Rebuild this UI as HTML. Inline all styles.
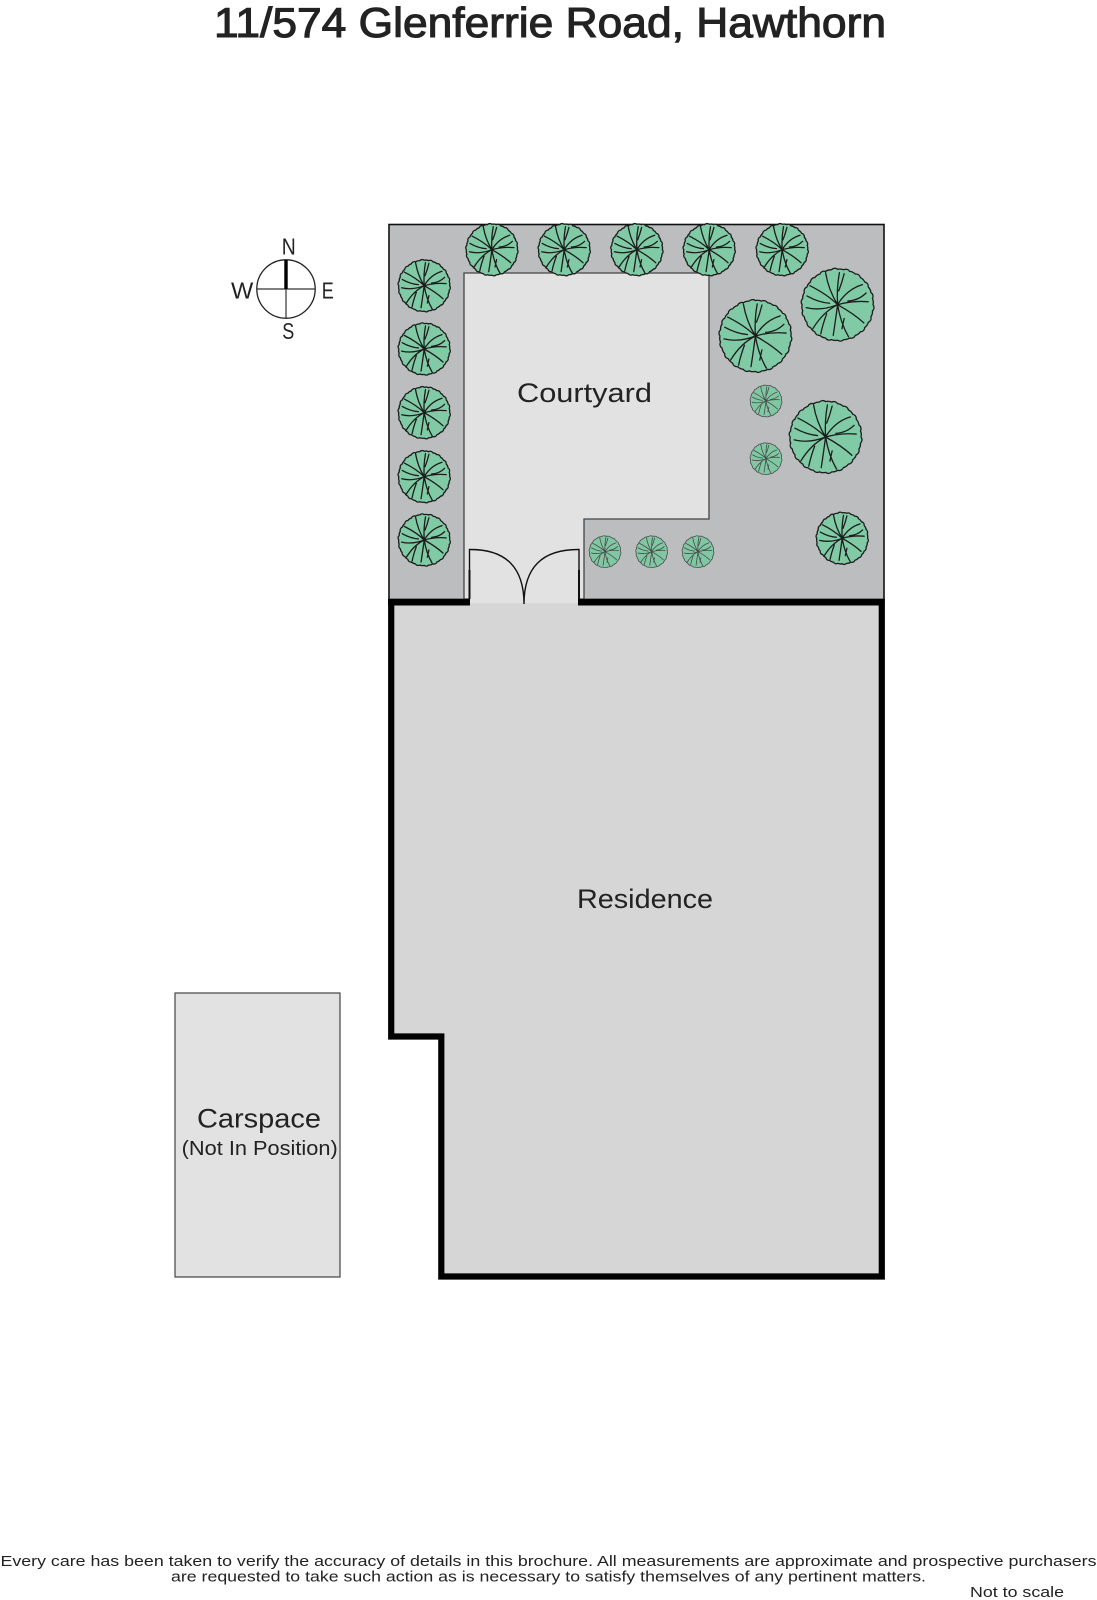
<!DOCTYPE html>
<html><head><meta charset="utf-8"><title>11/574 Glenferrie Road, Hawthorn</title>
<style>html,body{margin:0;padding:0;background:#fff}svg{display:block}
text{font-family:"Liberation Sans",sans-serif;fill:#222}</style></head>
<body>
<svg xmlns="http://www.w3.org/2000/svg" width="1097" height="1600" viewBox="0 0 1097 1600">
<defs>
<g id="tree" stroke-linejoin="round" stroke-linecap="round">
<path vector-effect="non-scaling-stroke" d="M97 0A12 12 0 0 1 95.5 16.9A25 25 0 0 1 91.2 33.2A12 12 0 0 1 84 48.5A25 25 0 0 1 74.3 62.4A12 12 0 0 1 62.4 74.3A25 25 0 0 1 48.5 84A12 12 0 0 1 33.2 91.2A25 25 0 0 1 16.9 95.5A12 12 0 0 1 0 97A25 25 0 0 1 -16.9 95.5A12 12 0 0 1 -33.2 91.2A25 25 0 0 1 -48.5 84A12 12 0 0 1 -62.4 74.3A25 25 0 0 1 -74.3 62.4A12 12 0 0 1 -84 48.5A25 25 0 0 1 -91.2 33.2A12 12 0 0 1 -95.5 16.9A25 25 0 0 1 -97 0A12 12 0 0 1 -95.5 -16.9A25 25 0 0 1 -91.2 -33.2A12 12 0 0 1 -84 -48.5A25 25 0 0 1 -74.3 -62.4A12 12 0 0 1 -62.4 -74.3A25 25 0 0 1 -48.5 -84A12 12 0 0 1 -33.2 -91.2A25 25 0 0 1 -16.9 -95.5A12 12 0 0 1 0 -97A25 25 0 0 1 16.9 -95.5A12 12 0 0 1 33.2 -91.2A25 25 0 0 1 48.5 -84A12 12 0 0 1 62.4 -74.3A25 25 0 0 1 74.3 -62.4A12 12 0 0 1 84 -48.5A25 25 0 0 1 91.2 -33.2A12 12 0 0 1 95.5 -16.9A25 25 0 0 1 97 0Z"/>
<path vector-effect="non-scaling-stroke" fill="none" d="M0 0Q-25 -40 -33 -88M0 0Q-3 -45 5 -88M3 -38Q12 -60 18 -85M0 0Q25 -42 68 -55M0 0Q40 -12 84 -8M28 -10Q58 -12 78 -32M0 0Q45 25 72 50M0 0Q8 50 30 88M0 0Q-6 45 -12 84M18 38Q14 55 12 66M0 0Q-40 20 -68 66M-30 25Q-42 58 -46 80M0 0Q-45 18 -86 8M0 0Q-28 -28 -76 -52M-22 -4Q-52 -6 -84 -24"/>
</g>
</defs>

<text x="214" y="37" font-size="42" textLength="672" lengthAdjust="spacingAndGlyphs" stroke="#222" stroke-width="1.1">11/574 Glenferrie Road, Hawthorn</text>

<!-- garden -->
<rect x="389" y="224.5" width="495" height="375" fill="#bcbdbf" stroke="#111" stroke-width="1.6"/>
<!-- courtyard -->
<polygon points="464,273 709,273 709,519 584,519 584,599 464,599" fill="#e2e2e3" stroke="#444" stroke-width="1.3"/>

<!-- residence -->
<polygon points="391,602 881.5,602 881.5,1276 441,1276 441,1036 391,1036" fill="#d6d6d6"/>
<rect x="470" y="596" width="109" height="8" fill="#e2e2e3"/>
<rect x="470" y="603" width="109" height="3" fill="#d6d6d6"/>
<path d="M470 602.2H388M578 602.2H884.6" stroke="#000" stroke-width="6.6" fill="none"/>
<path d="M391.2 599V1036.5H441.3V1276.5H881.8V599" stroke="#000" stroke-width="6.2" fill="none" stroke-linejoin="miter"/>

<!-- door -->
<path d="M469.5 599V549.5Q524 549 524 604Q524 549 579 549.5V599" fill="none" stroke="#111" stroke-width="1.4"/>
<path d="M469.5 570V599M579 570V599" fill="none" stroke="#111" stroke-width="2"/>

<!-- trees -->
<g fill="#80cba5" stroke="#1c1c1c" stroke-width="1.3">
<use href="#tree" transform="translate(491.9,249.7) scale(.262)"/>
<use href="#tree" transform="translate(564.2,249.7) scale(.262)"/>
<use href="#tree" transform="translate(636.9,249.7) scale(.262)"/>
<use href="#tree" transform="translate(709.2,249.7) scale(.262)"/>
<use href="#tree" transform="translate(782.2,249.7) scale(.262)"/>
<use href="#tree" transform="translate(424.2,285.7) scale(.262)"/>
<use href="#tree" transform="translate(424.2,349) scale(.262)"/>
<use href="#tree" transform="translate(424.2,412.7) scale(.262)"/>
<use href="#tree" transform="translate(424.2,476.7) scale(.262)"/>
<use href="#tree" transform="translate(424.2,540) scale(.262)"/>
<use href="#tree" transform="translate(842.2,538.3) scale(.262)"/>
<use href="#tree" transform="translate(755.4,336) scale(.365)"/>
<use href="#tree" transform="translate(837.6,304.7) scale(.365)"/>
<use href="#tree" transform="translate(825.6,437) scale(.365)"/>
</g>
<g fill="#80c8a4" stroke="#4a4a4a" stroke-width="0.8">
<use href="#tree" transform="translate(766,401) scale(.16)"/>
<use href="#tree" transform="translate(766,458.7) scale(.16)"/>
<use href="#tree" transform="translate(605,551.7) scale(.16)"/>
<use href="#tree" transform="translate(651.7,551.7) scale(.16)"/>
<use href="#tree" transform="translate(698,551.7) scale(.16)"/>
</g>

<!-- carspace -->
<rect x="175" y="993" width="165" height="284" fill="#e2e2e3" stroke="#444" stroke-width="1.2"/>

<!-- labels -->
<text x="517" y="402" font-size="27" textLength="135" lengthAdjust="spacingAndGlyphs">Courtyard</text>
<text x="577" y="908" font-size="27" textLength="136" lengthAdjust="spacingAndGlyphs">Residence</text>
<text x="197" y="1127.5" font-size="27" textLength="124" lengthAdjust="spacingAndGlyphs">Carspace</text>
<text x="181.7" y="1155" font-size="20" textLength="156" lengthAdjust="spacingAndGlyphs">(Not In Position)</text>

<!-- compass -->
<circle cx="286" cy="289" r="29.2" fill="none" stroke="#222" stroke-width="1.3"/>
<path d="M257 289H315M286 289V318" stroke="#333" stroke-width="1.2" fill="none"/>
<path d="M286 260V289" stroke="#000" stroke-width="3.4" fill="none"/>
<text x="281.7" y="254.3" font-size="23" textLength="14" lengthAdjust="spacingAndGlyphs">N</text>
<text x="231" y="298.3" font-size="23" textLength="22.3" lengthAdjust="spacingAndGlyphs">W</text>
<text x="321.7" y="298.3" font-size="23" textLength="12" lengthAdjust="spacingAndGlyphs">E</text>
<text x="282.3" y="339" font-size="23" textLength="12" lengthAdjust="spacingAndGlyphs">S</text>

<!-- footer -->
<text x="0.5" y="1566" font-size="14.5" textLength="1096" lengthAdjust="spacingAndGlyphs">Every care has been taken to verify the accuracy of details in this brochure.  All measurements are approximate and prospective purchasers</text>
<text x="171" y="1581.5" font-size="14.5" textLength="755" lengthAdjust="spacingAndGlyphs">are requested to take such action as is necessary to satisfy themselves of any pertinent matters.</text>
<text x="970" y="1597" font-size="14.5" textLength="94" lengthAdjust="spacingAndGlyphs">Not to scale</text>
</svg>
</body></html>
